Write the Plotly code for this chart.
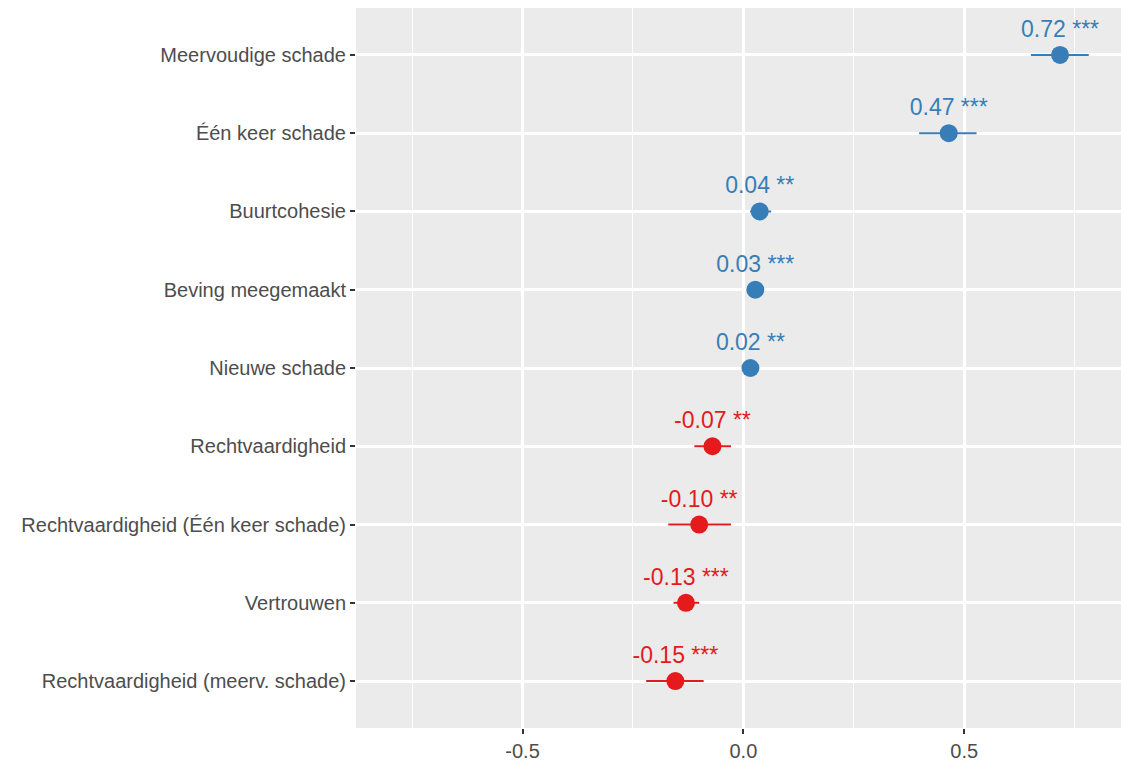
import plotly.graph_objects as go

categories = ["Meervoudige schade", "Één keer schade", "Buurtcohesie", "Beving meegemaakt",
              "Nieuwe schade", "Rechtvaardigheid", "Rechtvaardigheid (Één keer schade)",
              "Vertrouwen", "Rechtvaardigheid (meerv. schade)"]
estimates = [0.717, 0.465, 0.037, 0.027, 0.016, -0.070, -0.100, -0.130, -0.154]
ci_low = [0.651, 0.398, 0.015, 0.018, 0.010, -0.111, -0.170, -0.158, -0.220]
ci_high = [0.782, 0.528, 0.063, 0.036, 0.022, -0.028, -0.028, -0.100, -0.090]
labels = ["0.72", "0.47", "0.04", "0.03", "0.02", "-0.07", "-0.10", "-0.13", "-0.15"]
stars = ["***", "***", "**", "***", "**", "**", "**", "***", "***"]

BLUE = "#377EB8"
RED = "#E41A1C"
colors = [BLUE if e > 0 else RED for e in estimates]

fig = go.Figure()

# zero reference line
fig.add_shape(type="line", x0=0, x1=0, y0=0, y1=1, xref="x", yref="paper",
              line=dict(color="#A6A6A6", width=2, dash="dash"), layer="below")

for cat, e, lo, hi, col in zip(categories, estimates, ci_low, ci_high, colors):
    fig.add_trace(go.Scatter(x=[lo, hi], y=[cat, cat], mode="lines",
                             line=dict(color=col, width=2), showlegend=False,
                             hoverinfo="skip"))

fig.add_trace(go.Scatter(
    x=estimates, y=categories, mode="markers+text",
    marker=dict(color=colors, size=18),
    text=[f"{l} {s}" for l, s in zip(labels, stars)],
    textposition="top center",
    textfont=dict(family="Liberation Sans, Arial", size=23, color=colors),
    showlegend=False,
))

fig.update_layout(
    width=1121, height=761,
    margin=dict(l=356, r=0, t=8, b=33, autoexpand=False),
    paper_bgcolor="white",
    plot_bgcolor="#EBEBEB",
    font=dict(family="Liberation Sans, Arial", size=20, color="#4D4D4D"),
)
fig.update_xaxes(
    range=[-0.877, 0.855], tickvals=[-0.5, 0, 0.5], ticktext=["-0.5", "0.0", "0.5"],
    showgrid=True, gridcolor="white", gridwidth=2.5, zeroline=False,
    ticks="outside", ticklen=5, tickcolor="#333333", tickwidth=1.5,
    tickfont=dict(size=20, color="#4D4D4D"),
    minor=dict(tickvals=[-0.75, -0.25, 0.25, 0.75], showgrid=True, gridcolor="white", gridwidth=1.2),
    showline=False, automargin=False,
)
fig.update_yaxes(
    type="category", categoryorder="array", categoryarray=categories,
    range=[8.6, -0.6],
    showgrid=True, gridcolor="white", gridwidth=2.5, zeroline=False,
    ticks="outside", ticklen=5, tickcolor="#333333", tickwidth=1.5,
    tickfont=dict(size=20, color="#4D4D4D"),
    showline=False, automargin=False,
)

fig.write_html("out.html", config={"displayModeBar": False},
               post_script="document.body.style.margin='0';")
